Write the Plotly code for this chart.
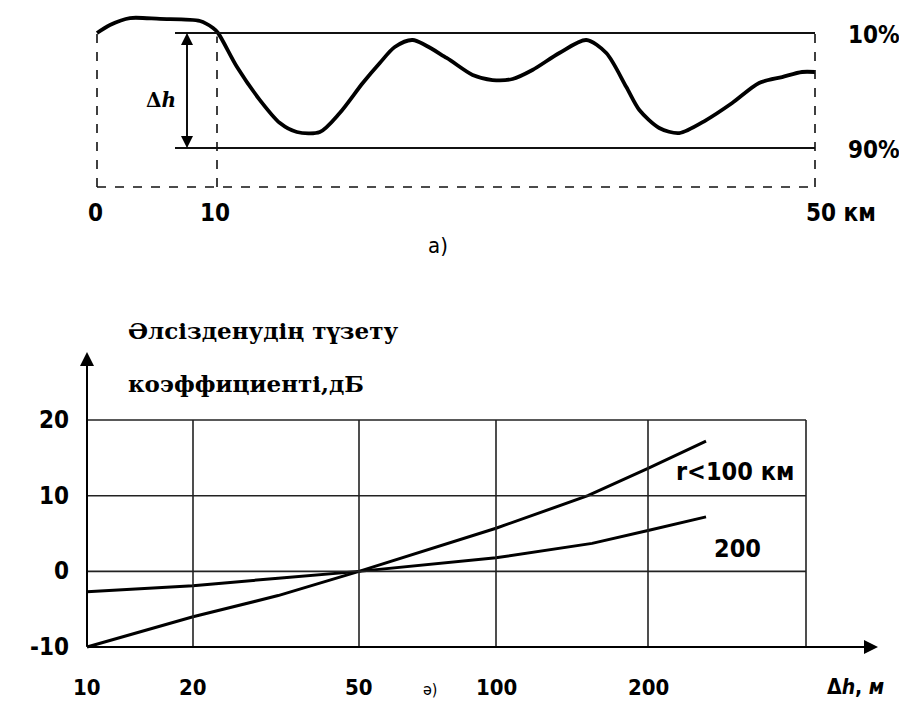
import numpy as np
import plotly.graph_objects as go

# ---------------- data: panel a) terrain profile ----------------
profile_km = [0, 1.08, 2.75, 5.25, 8.58, 9.67, 10.07, 11.34, 12.87, 14.21, 15.34, 16.88,
              18.21, 19.75, 20.89, 21.89, 23.09, 25.36, 27.1, 28.43, 29.77, 31.1, 32.9,
              34.7, 36.04, 37.38, 38.25, 39.58, 40.92, 42.72, 44.46, 46.26, 47.8, 49.13, 50]
# relative height: 1 = 10 % level, 0 = 90 % level
profile_h = [1.0, 1.07, 1.13, 1.122, 1.104, 1.043, 1.0, 0.704, 0.417, 0.217, 0.139, 0.139,
             0.304, 0.565, 0.739, 0.878, 0.939, 0.783, 0.635, 0.591, 0.6, 0.678, 0.826,
             0.939, 0.826, 0.53, 0.33, 0.174, 0.13, 0.243, 0.391, 0.565, 0.617, 0.661, 0.661]
top_ticks_km = [0, 10, 50]
top_tick_labels = ["0", "10", "50 км"]
level_labels = ["10%", "90%"]
level_values = [1, 0]

# ---------------- data: panel ә) correction factor ----------------
grid_dh = [10, 20, 50, 100, 200, 500]
dh_tick_labels = ["10", "20", "50", "100", "200"]
db_ticks = [20, 10, 0, -10]
db_tick_labels = ["20", "10", "0", "-10"]

r100_dh = [10, 20, 32, 50, 100, 152, 200, 280]
r100_db = [-10, -6, -3.2, 0, 5.7, 10, 13.6, 17.2]
r200_dh = [10, 20, 32, 50, 100, 155, 200, 280]
r200_db = [-2.7, -1.9, -0.9, 0, 1.8, 3.7, 5.4, 7.2]

# ---------------- scales (non-uniform drawing scales) ----------------
KM_KNOTS = [0, 10, 50]
KM_POS = [0, 120, 718]
GRID_POS = [0, 106, 272, 409, 561, 719]


def kmpos(v):
    return np.interp(v, KM_KNOTS, KM_POS)


def dhpos(v):
    return np.interp(np.log10(v), np.log10(grid_dh), GRID_POS)


OFF = 8                      # page body margin
W, H = 907 - 2 * OFF, 709 - 2 * OFF


def px(x):
    return (x - OFF) / W


def py(y):
    return 1 - (y - OFF) / H


BLACK = "#000000"
NARROW = "DejaVu Sans Condensed, Liberation Sans Narrow, Liberation Sans, Arial"
SERIF = "DejaVu Serif, Liberation Serif, serif"

fig = go.Figure()

fig.add_trace(go.Scatter(x=kmpos(profile_km), y=profile_h, mode="lines",
                         line=dict(color=BLACK, width=3.8, shape="spline", smoothing=0.8),
                         xaxis="x", yaxis="y", showlegend=False, hoverinfo="skip"))
fig.add_trace(go.Scatter(x=dhpos(r100_dh), y=r100_db, mode="lines",
                         line=dict(color=BLACK, width=3), xaxis="x2", yaxis="y2",
                         showlegend=False, hoverinfo="skip"))
fig.add_trace(go.Scatter(x=dhpos(r200_dh), y=r200_db, mode="lines",
                         line=dict(color=BLACK, width=3), xaxis="x2", yaxis="y2",
                         showlegend=False, hoverinfo="skip"))

shapes = []
annots = []
BOTTOM_H = -0.339


def label(text, x, y, size, family=NARROW, xref="paper", yref="paper", xanchor="center",
          yanchor="middle", **kw):
    annots.append(dict(xref=xref, yref=yref, x=x, y=y, text=text, showarrow=False,
                       xanchor=xanchor, yanchor=yanchor, borderpad=0,
                       font=dict(family=family, size=size, color=BLACK), **kw))


for lv in level_values:
    shapes.append(dict(type="line", xref="x", yref="y", x0=kmpos(6.5), x1=kmpos(50),
                       y0=lv, y1=lv, line=dict(color="#111", width=1.8)))
dash = dict(color="#111", width=1.6, dash="dash")
shapes.append(dict(type="line", xref="x", yref="y", x0=kmpos(0), x1=kmpos(50),
                   y0=BOTTOM_H, y1=BOTTOM_H, line=dash))
shapes.append(dict(type="line", xref="x", yref="y", x0=kmpos(0), x1=kmpos(0),
                   y0=BOTTOM_H, y1=profile_h[0], line=dash))
shapes.append(dict(type="line", xref="x", yref="y", x0=kmpos(10), x1=kmpos(10),
                   y0=BOTTOM_H, y1=0.97, line=dash))
shapes.append(dict(type="line", xref="x", yref="y", x0=kmpos(50), x1=kmpos(50),
                   y0=BOTTOM_H, y1=1.0, line=dash))

for (ya, yb) in [(1, 0), (0, 1)]:
    annots.append(dict(xref="x", yref="y", axref="x", ayref="y", x=kmpos(7.5), y=ya,
                       ax=kmpos(7.5), ay=yb, showarrow=True, arrowhead=2, arrowsize=1.6,
                       arrowwidth=1.5, arrowcolor=BLACK, text=""))
label("<b>Δ<i>h</i></b>", kmpos(5.3), 0.42, 20, family=SERIF, xref="x", yref="y")

for k, lab in zip(top_ticks_km, top_tick_labels):
    if lab.endswith("км"):
        label(f"<b>{lab}</b>", kmpos(k), py(213), 24, xref="x", xanchor="left", xshift=-10)
    else:
        label(f"<b>{lab}</b>", kmpos(k), py(213), 24, xref="x", xshift=-2)
for lv, lab in zip(level_values, level_labels):
    label(f"<b>{lab}</b>", px(874), lv, 24, yref="y", yshift=-2)
label("а)", px(438), py(245), 22)

grid_line = dict(color="#222", width=1.6)
for p in GRID_POS:
    shapes.append(dict(type="line", xref="x2", yref="y2", x0=p, x1=p, y0=-10, y1=20,
                       line=grid_line))
for d in db_ticks:
    shapes.append(dict(type="line", xref="x2", yref="y2", x0=0, x1=GRID_POS[-1], y0=d, y1=d,
                       line=grid_line))
annots.append(dict(xref="x2", yref="paper", x=0, y=py(352), ax=0, ay=296,
                   showarrow=True, arrowhead=2, arrowsize=1.4, arrowwidth=2,
                   arrowcolor=BLACK, text=""))
annots.append(dict(xref="paper", yref="y2", x=px(878), y=-10, ax=-792, ay=0,
                   showarrow=True, arrowhead=2, arrowsize=1.4, arrowwidth=2,
                   arrowcolor=BLACK, text=""))

for v, lab in zip(grid_dh[:5], dh_tick_labels):
    label(f"<b>{lab}</b>", dhpos(v), py(687), 22, xref="x2")
label("<b>Δ<i>h</i>, <i>м</i></b>", px(855), py(687), 21)
for d, lab in zip(db_ticks, db_tick_labels):
    label(f"<b>{lab}</b>", px(70), d, 24, yref="y2", xanchor="right")
label("ә)", px(430), py(700), 16, yanchor="bottom")
label("<b>r<100 км</b>", px(735), py(471), 25)
label("<b>200</b>", px(737), py(548), 25)
label("<b>Әлсізденудің түзету</b>", px(127), py(330), 23, family=SERIF, xanchor="left")
label("<b>коэффициенті,дБ</b>", px(127), py(383), 23, family=SERIF, xanchor="left")

hidden = dict(visible=False, showgrid=False, zeroline=False, fixedrange=True)
fig.update_layout(
    width=W, height=H, margin=dict(l=0, r=0, t=0, b=0),
    paper_bgcolor="white", plot_bgcolor="rgba(0,0,0,0)",
    xaxis=dict(domain=[px(90), px(822)], range=[-7, 725], anchor="y", **hidden),
    yaxis=dict(domain=[py(200), py(10)], range=[-0.452, 1.2], anchor="x", **hidden),
    xaxis2=dict(domain=[px(60), px(890)], range=[-27, 803], anchor="y2", **hidden),
    yaxis2=dict(domain=[py(700), py(330)], range=[-17.0, 31.9], anchor="x2", **hidden),
    shapes=shapes, annotations=annots,
)
fig.write_html("out.html")
